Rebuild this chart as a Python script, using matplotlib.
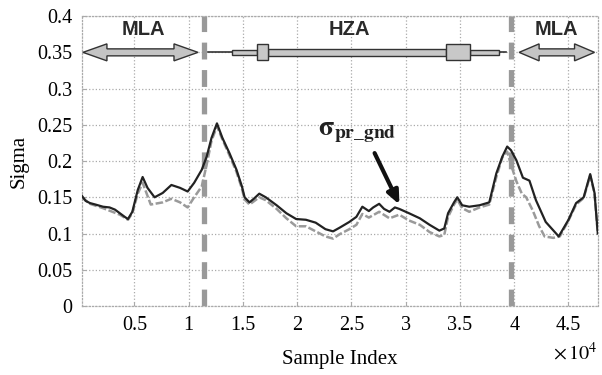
import matplotlib
matplotlib.use("Agg")
import matplotlib.pyplot as plt
from matplotlib.patches import Polygon

# ---------------- data ----------------
x_dark = [150, 500, 900, 1400, 2100, 2700, 3200, 3650, 4100, 4400, 4800, 5300, 5750,
          6200, 6850, 7600, 8400, 9200, 9900, 10500, 11200, 11650, 12100, 12600,
          13100, 13750, 14400, 14900, 15150, 15600, 16000, 16500, 17100, 18100,
          19000, 19900, 20800, 21700, 22600, 23300, 23900, 24800, 25450, 26000,
          26600, 27000, 27550, 28000, 28500, 29000, 29400, 30300, 31300, 32200,
          33100, 33550, 33900, 34450, 34750, 35200, 35850, 36800, 37700, 38350,
          38900, 39350, 39700, 40200, 40800, 41400, 42000, 42900, 44100, 45000,
          45700, 46400, 47000, 47400, 47700]
y_dark = [0.152, 0.145, 0.142, 0.140, 0.137, 0.136, 0.133, 0.128, 0.123, 0.120, 0.130,
          0.160, 0.178, 0.163, 0.150, 0.156, 0.167, 0.163, 0.158, 0.170, 0.188, 0.206,
          0.232, 0.252, 0.232, 0.211, 0.188, 0.165, 0.150, 0.143, 0.148, 0.155, 0.150,
          0.139, 0.128, 0.120, 0.119, 0.115, 0.106, 0.103, 0.108, 0.116, 0.123, 0.137,
          0.131, 0.136, 0.141, 0.134, 0.130, 0.136, 0.134, 0.128, 0.121, 0.112, 0.104,
          0.107, 0.128, 0.143, 0.150, 0.139, 0.137, 0.139, 0.143, 0.183, 0.206, 0.220,
          0.215, 0.201, 0.177, 0.173, 0.146, 0.116, 0.096, 0.119, 0.142, 0.150, 0.182,
          0.156, 0.100]

x_gray = [150, 900, 2100, 3650, 4400, 4800, 5300, 5750, 6500, 7600, 8400, 9200, 9900,
          10500, 11200, 11650, 12100, 12600, 13100, 13750, 14400, 14900, 15150, 15600,
          16500, 17100, 18100, 19000, 19900, 20800, 21700, 22600, 23300, 23900, 24800,
          25450, 26000, 26600, 27550, 28500, 29400, 30300, 31300, 32200, 33100, 33550,
          33900, 34450, 34750, 35200, 35850, 36800, 37700, 38350, 38900, 39350, 39700,
          40200, 40700, 41100, 41700, 42300, 42800, 43600, 44200, 45000, 45700, 46400,
          47000, 47400, 47700]
y_gray = [0.150, 0.141, 0.135, 0.126, 0.119, 0.128, 0.155, 0.170, 0.140, 0.143, 0.148,
          0.143, 0.136, 0.150, 0.165, 0.195, 0.228, 0.248, 0.230, 0.208, 0.185, 0.162,
          0.147, 0.140, 0.150, 0.146, 0.134, 0.121, 0.110, 0.110, 0.103, 0.096, 0.093,
          0.099, 0.106, 0.112, 0.127, 0.122, 0.130, 0.121, 0.126, 0.118, 0.112, 0.102,
          0.096, 0.098, 0.123, 0.140, 0.147, 0.135, 0.130, 0.136, 0.140, 0.178, 0.205,
          0.213, 0.195, 0.172, 0.155, 0.150, 0.132, 0.110, 0.096, 0.094, 0.096, 0.118,
          0.140, 0.149, 0.180, 0.155, 0.100]

boundaries = [11400, 39700]
x_ticks = [5000, 10000, 15000, 20000, 25000, 30000, 35000, 40000, 45000]
x_tick_labels = ["0.5", "1", "1.5", "2", "2.5", "3", "3.5", "4", "4.5"]
y_ticks = [0, 0.05, 0.1, 0.15, 0.2, 0.25, 0.3, 0.35, 0.4]
y_tick_labels = ["0", "0.05", "0.1", "0.15", "0.2", "0.25", "0.3", "0.35", "0.4"]
zone_labels = ["MLA", "HZA", "MLA"]
zone_label_x = [5800, 24800, 43900]

# ---------------- style ----------------
SERIF = ['Liberation Serif', 'DejaVu Serif']
plt.rcParams['font.family'] = SERIF
plt.rcParams['mathtext.fontset'] = 'stix'

fig = plt.figure(figsize=(6.02, 3.75), dpi=100)
ax = fig.add_axes([0.136, 0.184, 0.857, 0.773])

ax.set_xlim(150, 47700)
ax.set_ylim(0, 0.4)
ax.set_xticks(x_ticks)
ax.set_xticklabels(x_tick_labels, fontfamily=SERIF)
ax.set_yticks(y_ticks)
ax.set_yticklabels(y_tick_labels, fontfamily=SERIF)

ax.tick_params(axis='both', labelsize=14.5, direction='in', length=3,
               color='#aaaaaa', pad=7)
ax.grid(True, linestyle=':', color='#aaaaaa', lw=0.9)
for s in ax.spines.values():
    s.set_color('#aaaaaa')
    s.set_linewidth(0.9)
    s.set_linestyle(':')

ax.set_xlabel("Sample Index", fontsize=15, labelpad=11, fontfamily=SERIF)
ax.set_ylabel("Sigma", fontsize=15, labelpad=6, fontfamily=SERIF)
ax.text(1.0, -0.125, r'$\times\,10^{4}$', transform=ax.transAxes, ha='right',
        va='top', fontsize=14.5)

# data lines
ax.plot(x_gray, y_gray, color='#9a9a9a', lw=1.8, ls=(0, (3, 1)), zorder=3)
ax.plot(x_dark, y_dark, color='#222222', lw=1.6, zorder=4)

# boundary lines
for b in boundaries:
    ax.axvline(b, color='#999999', lw=3.8, ls=(0, (3.2, 2.0)), zorder=2)

# ---------------- zone arrows ----------------
yc = 0.35
px_x = 1e4 / 108.6
px_y = 1 / 725.0


def double_arrow(x0, x1, L=24, H=8.5, h=3.5):
    Lx = L * px_x
    Hy = H * px_y
    hy = h * px_y
    pts = [(x0, yc), (x0 + Lx, yc + Hy), (x0 + Lx, yc + hy), (x1 - Lx, yc + hy),
           (x1 - Lx, yc + Hy), (x1, yc), (x1 - Lx, yc - Hy), (x1 - Lx, yc - hy),
           (x0 + Lx, yc - hy), (x0 + Lx, yc - Hy)]
    ax.add_patch(Polygon(pts, closed=True, fc='#c4c4c4', ec='#333333', lw=1.0,
                         zorder=5))


def box(x0, x1, h):
    hy = h * px_y
    ax.add_patch(Polygon([(x0, yc - hy), (x1, yc - hy), (x1, yc + hy), (x0, yc + hy)],
                         closed=True, fc='#c8c8c8', ec='#333333', lw=1.0, zorder=5))


double_arrow(250, 10850)
double_arrow(40450, 47400, L=20)

# HZA arrow
ax.plot([11800, 39200], [yc, yc], color='#333333', lw=1.2, zorder=4)
box(14000, 16300, 2.5)
box(35900, 38600, 2.8)
box(17300, 33750, 3.5)
box(16300, 17300, 8)
box(33750, 35900, 8)

for lbl, xl in zip(zone_labels, zone_label_x):
    ax.text(xl, 0.381, lbl, ha='center', va='center', fontsize=14.5,
            fontweight='bold', family=['Liberation Sans', 'DejaVu Sans'],
            color='#2a2a2a', zorder=6)

# sigma annotation
ax.text(21900, 0.236, r'$\mathbf{\sigma}_{\mathbf{pr\_gnd}}$', fontsize=20,
        ha='left', va='baseline', color='#222222', zorder=6)
ax.annotate('', xy=(29420, 0.140), xytext=(27130, 0.211),
            arrowprops=dict(arrowstyle='-|>,head_length=0.8,head_width=0.35',
                            color='#111111', lw=3.0, shrinkA=0, shrinkB=0),
            zorder=6)

fig.savefig("out.png", dpi=100)
